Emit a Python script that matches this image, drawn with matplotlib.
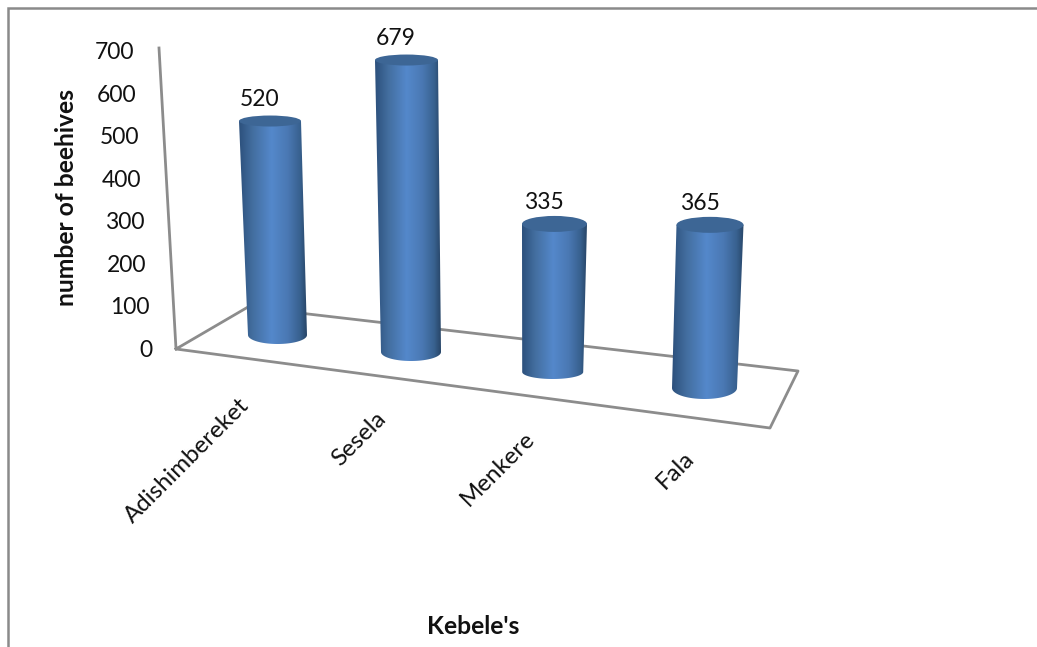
import matplotlib
matplotlib.use('Agg')
import matplotlib.pyplot as plt
from matplotlib.colors import LinearSegmentedColormap
from matplotlib.patches import Ellipse, PathPatch
from matplotlib.path import Path
import numpy as np

# data
kebeles = ["Adishimbereket", "Sesela", "Menkere", "Fala"]
beehives = [520, 679, 335, 365]
y_ticks = [0, 100, 200, 300, 400, 500, 600, 700]

# layout of the pseudo 3D scene, in pixels of the picture
W, H = 1037, 647
base_x = [277.5, 411, 552.7, 704.5]
base_y = [335, 352, 372, 388]
px_per_unit = [0.4115, 0.430, 0.442, 0.447]
top_shift = [-7.5, -4.5, 1.8, 5.5]
base_half_w = [29.5, 30, 30.5, 32.5]
top_half_w = [31, 31.5, 32.5, 33.5]
base_half_h = [9, 9, 7, 11]
top_half_h = [5.5, 5.5, 8, 8]

plt.rcParams['font.family'] = ['Lato', 'DejaVu Sans']

fig = plt.figure(figsize=(W / 100, H / 100), dpi=100)
ax = fig.add_axes([0, 0, 1, 1])
ax.axis('off')

grey = '#8c8c8c'
text_color = '#111111'

# frame at the left and on top
ax.plot([8, 8, W], [H, 8, 8], color='#8a8a8a', lw=1.8, solid_joinstyle='miter')

# floor and wall
ax.plot([159, 176, 770, 798, 248, 176], [48, 349, 428, 371, 307, 349], color=grey, lw=2, zorder=1)

# y tick labels, following the wall edge
for v in y_ticks:
    t = v / 700
    ax.text(152 - 18 * t, 350.5 - t * 298, str(v), fontsize=16.5, ha='right', va='center', color=text_color)

# cylinders
cmap = LinearSegmentedColormap.from_list(
    'cyl', [(0, '#2c507c'), (0.2, '#436e9f'), (0.48, '#5488cb'), (0.72, '#4a78b3'), (0.9, '#38618f'), (1, '#284668')])
top_color = '#3d6695'
for i, val in enumerate(beehives):
    x0, y0 = base_x[i], base_y[i]
    x1 = x0 + top_shift[i]
    y1 = y0 - val * px_per_unit[i]
    w0, w1 = base_half_w[i], top_half_w[i]
    tt = np.linspace(0, np.pi, 40)
    # body outline: round the bottom, then up to the top corners
    bottom = np.column_stack([x0 - w0 * np.cos(tt), y0 + base_half_h[i] * np.sin(tt)])
    verts = np.vstack([[x1 - w1, y1], bottom, [x1 + w1, y1], [x1 - w1, y1]])
    im = ax.imshow(np.linspace(0, 1, 256).reshape(1, -1), cmap=cmap, aspect='auto', zorder=3,
                   extent=[min(x0 - w0, x1 - w1), max(x0 + w0, x1 + w1), y0 + base_half_h[i] + 1, y1 - 1])
    patch = PathPatch(Path(verts), transform=ax.transData, fc='none', ec='none')
    ax.add_patch(patch)
    im.set_clip_path(patch)
    ax.add_patch(Ellipse((x1, y1), 2 * w1, 2 * top_half_h[i], fc=top_color, ec='none', zorder=4))
    ax.text(x1 - 10.5, y1 - 21.5, str(val), fontsize=16.5, ha='center', va='center', color=text_color, zorder=5)

# category labels
label_x = [238, 375, 524, 683]
label_y = [395, 408, 428, 447]
for x, y, name in zip(label_x, label_y, kebeles):
    ax.text(x, y, name, fontsize=17.3, rotation=45, ha='right', va='top', rotation_mode='anchor', color=text_color)

# axis titles
ax.text(67, 198, 'number of beehives', fontsize=17.7, fontweight='bold', rotation=90, ha='center', va='center', color=text_color)
ax.text(473, 627, "Kebele's", fontsize=17.7, fontweight='bold', ha='center', va='center', color=text_color)

ax.set_xlim(0, W)
ax.set_ylim(H, 0)
fig.savefig('out.png', dpi=100)
